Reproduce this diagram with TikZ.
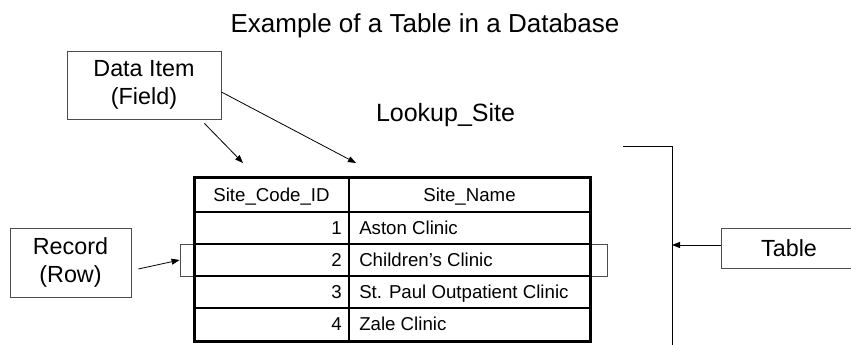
\documentclass[tikz,border=0pt]{standalone}
\usepackage{fontspec}
\setmainfont{Liberation Sans}
\usetikzlibrary{arrows.meta,calc}

\begin{document}
\begin{tikzpicture}[x=0.75pt,y=0.75pt,yscale=-1,xscale=1,
    pointer/.style={-{Triangle[length=6pt,width=4.5pt]},line width=0.6pt},
    labelbox/.style={draw=black!70,line width=0.6pt,align=center,inner sep=0pt,font=\fontsize{17.5}{21}\selectfont},
    cell/.style={inner sep=0pt,font=\fontsize{14}{16.8}\selectfont},
    gridline/.style={line width=0.9pt},
    frame/.style={line width=2.25pt}]
\useasboundingbox (0,0) rectangle (851,345);

% Text Node
\node (title) [anchor=base,inner sep=0pt,font=\fontsize{19.5}{23}\selectfont] at (425,33) {Example of a Table in a Database};
% Text Node
\node (tname) [anchor=base,inner sep=0pt,font=\fontsize{18.75}{22}\selectfont] at (445.5,122) {Lookup\_Site};

% Label boxes
\node (field) [labelbox,minimum width=115.5pt,minimum height=51pt] at (144,85) {Data Item\\(Field)};
\node (record) [labelbox,minimum width=90.75pt,minimum height=51.75pt] at (70.5,262.5) {Record\\(Row)};
\node (tbl) [labelbox,minimum width=102pt,minimum height=30pt] at (789,248) {Table};

% highlighted row
\node (rowbox) [draw=black!70,line width=0.6pt,minimum width=320.25pt,minimum height=24pt,inner sep=0pt] at (393.5,260) {};

% Table grid
\draw [gridline] (349,178) -- (349,342);
\foreach \r in {0,...,3}
  \draw [gridline] (194,212+32*\r) -- (590,212+32*\r);
\draw [frame] (194,178) rectangle (590,342);

% Header cells
\node (hcode) [cell,anchor=base] at (271.5,201.7) {Site\_Code\_ID};
\node (hname) [cell,anchor=base] at (469.5,201.7) {Site\_Name};
% Data cells
\foreach \id/\site [count=\r] in {1/Aston Clinic,2/Children’s Clinic,3/St. Paul Outpatient Clinic,4/Zale Clinic}{
  \node (code\r) [cell,anchor=base east] at (342,196+32*\r+6.7) {\id};
  \node (site\r) [cell,anchor=base west] at (359,196+32*\r+6.7) {\site};
}

% Table bracket
\coordinate (bktop) at (623,147);
\coordinate (bkcorner) at (672,147);
\coordinate (bkend) at (672,345);
\coordinate (bkmid) at (672,245);
\draw [line width=0.75pt] (bktop) -- (bkcorner) -- (bkend);

% Column targets
\coordinate (colA) at (243,163);
\coordinate (colB) at (356,163);

% Arrows
\draw [pointer] ($(field.south east)+(-17,4)$) -- (colA);
\draw [pointer] ($(field.east)+(0,7)$) -- (colB);
\draw [pointer] ($(record.east)+(7,6.5)$) -- (rowbox.west);
\draw [pointer] (tbl.west |- bkmid) -- (bkmid);
\end{tikzpicture}
\end{document}
